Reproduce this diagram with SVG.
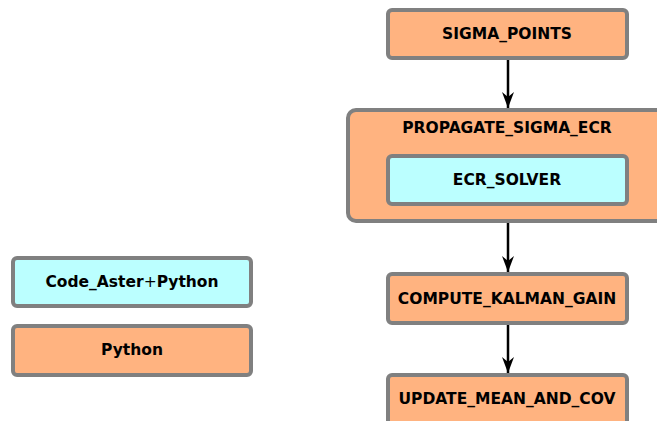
<svg xmlns="http://www.w3.org/2000/svg" width="657" height="421" viewBox="0 0 657 421">
<style>
.box{stroke:#808080;stroke-width:4}
.py{fill:#ffb380}
.ca{fill:#bbffff}
.lbl{font-family:"DejaVu Sans",sans-serif;font-weight:bold;font-size:15.5px;text-anchor:middle;fill:#000}
.edge{stroke:#000;stroke-width:2.5;fill:none}
</style>
<defs>
<marker id="ah" markerUnits="userSpaceOnUse" markerWidth="18" markerHeight="14" refX="16" refY="6" orient="auto">
<path d="M0,0 L16,6 L0,12 L5,6 Z" fill="#000"/>
</marker>
</defs>
<rect width="657" height="421" fill="#fff"/>
<g id="propagate_sigma_ecr">
<rect class="box py" x="348" y="110" width="320" height="111" rx="8"/>
<text class="lbl" x="507" y="133">PROPAGATE_SIGMA_ECR</text>
</g>
<g id="sigma_points">
<rect class="box py" x="388" y="10" width="239" height="48" rx="4"/>
<text class="lbl" x="507" y="39">SIGMA_POINTS</text>
</g>
<g id="ecr_solver">
<rect class="box ca" x="388" y="156" width="239" height="48" rx="4"/>
<text class="lbl" x="507" y="185">ECR_SOLVER</text>
</g>
<g id="compute_kalman_gain">
<rect class="box py" x="388" y="274" width="239" height="49" rx="4"/>
<text class="lbl" x="507" y="304">COMPUTE_KALMAN_GAIN</text>
</g>
<g id="update_mean_and_cov">
<rect class="box py" x="388" y="375" width="239" height="60" rx="4"/>
<text class="lbl" x="507" y="404">UPDATE_MEAN_AND_COV</text>
</g>
<g id="legend_code_aster">
<rect class="box ca" x="13" y="258" width="238" height="48" rx="4"/>
<text class="lbl" x="132" y="287">Code_Aster<tspan font-weight="normal">+</tspan>Python</text>
</g>
<g id="legend_python">
<rect class="box py" x="13" y="326" width="238" height="49" rx="4"/>
<text class="lbl" x="132" y="355">Python</text>
</g>
<g id="connectors">
<line class="edge" x1="508" y1="60" x2="508" y2="108" marker-end="url(#ah)"/>
<line class="edge" x1="508" y1="223" x2="508" y2="272" marker-end="url(#ah)"/>
<line class="edge" x1="508" y1="325" x2="508" y2="373" marker-end="url(#ah)"/>
</g>
</svg>
